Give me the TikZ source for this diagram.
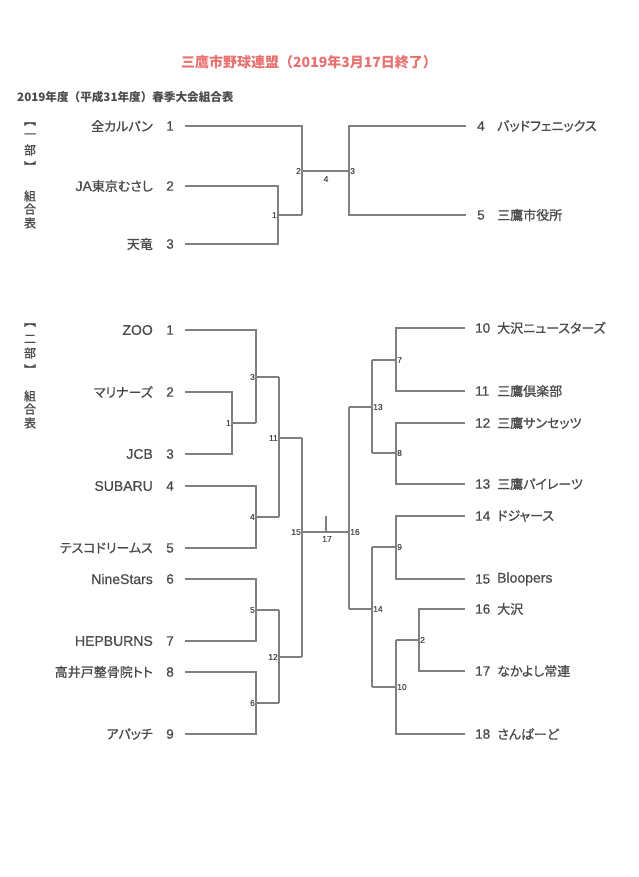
\documentclass[tikz,border=0pt]{standalone}
\usepackage{fontspec}
\setmainfont{Noto Sans CJK JP}
\newfontfamily\cjk{Noto Sans CJK JP}
\newfontfamily\cjkm{Noto Sans CJK JP}[FakeBold=0.8,RawFeature=+palt]
\newfontfamily\latf{Liberation Sans}[FakeBold=0.5]
\newcommand\lat[1]{{\latf\fontsize{14}{14}\selectfont #1}}
\definecolor{lineg}{HTML}{808080}
\definecolor{txt}{HTML}{4A4A4A}
\definecolor{ttl}{HTML}{E8706E}
\begin{document}
\begin{tikzpicture}[x=1pt,y=-1pt,
  ln/.style={draw=lineg,line width=1.3pt},
  team/.style={font=\cjkm\fontsize{13}{14}\selectfont,text=txt,inner sep=0pt},
  tnum/.style={font=\latf\fontsize{13.5}{14}\selectfont,text=txt,inner sep=0pt},
  mlab/.style={font=\latf\fontsize{8.5}{9}\selectfont,text=txt,inner sep=1pt},
  vlab/.style={font=\cjkm\fontsize{12}{12}\selectfont,text=txt,inner sep=0pt}]
\useasboundingbox[fill=white] (0,0) rectangle (638,877);

% titles
\node[font=\cjk\bfseries\fontsize{14}{15}\selectfont,text=ttl,anchor=west,inner sep=0pt] (title) at (181,62) {三鷹市野球連盟（2019年3月17日終了）};
\node[font=\cjk\bfseries\fontsize{11.6}{13}\selectfont,text=txt,anchor=west,inner sep=0pt] (sub) at (17,97) {2019年度（平成31年度）春季大会組合表};

% vertical labels part 1
\node[vlab,rotate=-90] (v1a) at (30,123) {【};
\node[vlab] (v1b) at (30,136) {一};
\node[vlab] (v1c) at (30,150) {部};
\node[vlab,rotate=-90] (v1d) at (30,164) {】};
\node[vlab] (v1e) at (30,196) {組};
\node[vlab] (v1f) at (30,209) {合};
\node[vlab] (v1g) at (30,223) {表};
% vertical labels part 2
\node[vlab,rotate=-90] (v2a) at (30,324) {【};
\node[vlab] (v2b) at (30,339) {二};
\node[vlab] (v2c) at (30,353) {部};
\node[vlab,rotate=-90] (v2d) at (30,367) {】};
\node[vlab] (v2e) at (30,396) {組};
\node[vlab] (v2f) at (30,409) {合};
\node[vlab] (v2g) at (30,423) {表};

% ---------- part 1 ----------
\node[team,anchor=east] (a1n) at (153,126) {全カルパン};
\node[team,anchor=east] (a2n) at (153,186) {\lat{JA}東京むさし};
\node[team,anchor=east] (a3n) at (153,244) {天竜};
\node[tnum,anchor=east] (a1) at (174,126) {1};
\node[tnum,anchor=east] (a2) at (174,186) {2};
\node[tnum,anchor=east] (a3) at (174,244) {3};
\node[tnum,anchor=west] (a4) at (477,126) {4};
\node[tnum,anchor=west] (a5) at (477,215) {5};
\node[team,anchor=west] (a4n) at (497,126) {バッドフェニックス};
\node[team,anchor=west] (a5n) at (497,215) {三鷹市役所};

\coordinate (a1s) at (185,126);
\coordinate (a2s) at (185,186);
\coordinate (a3s) at (185,244);
\coordinate (a4s) at (466,126);
\coordinate (a5s) at (466,215);
\coordinate (am1) at (278,215);
\coordinate (am2) at (302,171);
\coordinate (am3) at (349,171);

\draw[ln] (a2s) -| (am1) |- (a3s);
\draw[ln] (am1) -- (302,215) coordinate (am1e);
\draw[ln] (a1s) -| (am2) |- (am1e);
\draw[ln] (am2) -- (am3);
\draw[ln] (a4s) -| (am3) |- (a5s);
\node[mlab,anchor=east] (lab1) at (am1) {1};
\node[mlab,anchor=east] (lab2) at (am2) {2};
\node[mlab,anchor=west] (lab3) at (am3) {3};
\node[mlab] (lab4) at (326,179) {4};

% ---------- part 2 left ----------
\foreach \n/\y/\name in {1/330/\lat{ZOO},2/392/マリナーズ,3/454/\lat{JCB},4/486/\lat{SUBARU},5/548/テスコドリームス,6/579/\lat{NineStars},7/641/\lat{HEPBURNS},8/672/高井戸整骨院トト,9/734/アパッチ}{
  \node[team,anchor=east] (bn\n) at (153,\y) {\name};
  \node[tnum,anchor=east] (b\n) at (174,\y) {\n};
  \coordinate (bs\n) at (185,\y);
}
\coordinate (bm1) at (232,423);
\coordinate (bm3) at (256,377);
\coordinate (bm4) at (256,517);
\coordinate (bm11) at (279,438);
\coordinate (bm5) at (256,610);
\coordinate (bm6) at (256,703);
\coordinate (bm12) at (279,657);
\coordinate (bm15) at (302,532);

\draw[ln] (bs2) -| (bm1) |- (bs3);
\draw[ln] (bm1) -- (256,423) coordinate (bm1e);
\draw[ln] (bs1) -| (bm3) |- (bm1e);
\draw[ln] (bs4) -| (bm4) |- (bs5);
\draw[ln] (bm3) -- (279,377) coordinate (bm3e);
\draw[ln] (bm4) -- (279,517) coordinate (bm4e);
\draw[ln] (bm3e) -- (bm4e);
\draw[ln] (bm11) -- (302,438) coordinate (bm11e);
\draw[ln] (bs6) -| (bm5) |- (bs7);
\draw[ln] (bs8) -| (bm6) |- (bs9);
\draw[ln] (bm5) -- (279,610) coordinate (bm5e);
\draw[ln] (bm6) -- (279,703) coordinate (bm6e);
\draw[ln] (bm5e) -- (bm6e);
\draw[ln] (bm12) -- (302,657) coordinate (bm12e);
\draw[ln] (bm11e) -- (bm12e);

\node[mlab,anchor=east] (l1) at (bm1) {1};
\node[mlab,anchor=east] (l3) at (bm3) {3};
\node[mlab,anchor=east] (l4) at (bm4) {4};
\node[mlab,anchor=east] (l11) at (bm11) {11};
\node[mlab,anchor=east] (l5) at (bm5) {5};
\node[mlab,anchor=east] (l6) at (bm6) {6};
\node[mlab,anchor=east] (l12) at (bm12) {12};
\node[mlab,anchor=east] (l15) at (bm15) {15};

% ---------- part 2 right ----------
\foreach \n/\y/\name in {10/328/大沢ニュースターズ,11/391/三鷹倶楽部,12/423/三鷹サンセッツ,13/484/三鷹パイレーツ,14/516/ドジャース,15/579/\lat{Bloopers},16/609/大沢,17/671/なかよし常連,18/734/さんぱーど}{
  \node[tnum,anchor=west] (c\n) at (475,\y) {\n};
  \node[team,anchor=west] (cn\n) at (497,\y) {\name};
  \coordinate (cs\n) at (465,\y);
}
\coordinate (cm7) at (396,360);
\coordinate (cm8) at (396,453);
\coordinate (cm13) at (372,407);
\coordinate (cm9) at (396,547);
\coordinate (cm2) at (419,640);
\coordinate (cm10) at (396,687);
\coordinate (cm14) at (372,609);
\coordinate (cm16) at (349,532);

\draw[ln] (cs10) -| (cm7) |- (cs11);
\draw[ln] (cs12) -| (cm8) |- (cs13);
\draw[ln] (cm7) -- (372,360) coordinate (cm7e);
\draw[ln] (cm8) -- (372,453) coordinate (cm8e);
\draw[ln] (cm7e) -- (cm8e);
\draw[ln] (cm13) -- (349,407) coordinate (cm13e);
\draw[ln] (cs14) -| (cm9) |- (cs15);
\draw[ln] (cs16) -| (cm2) |- (cs17);
\draw[ln] (cm2) -- (396,640) coordinate (cm2e);
\draw[ln] (cm2e) |- (cs18);
\draw[ln] (cm9) -- (372,547) coordinate (cm9e);
\draw[ln] (cm10) -- (372,687) coordinate (cm10e);
\draw[ln] (cm9e) -- (cm10e);
\draw[ln] (cm14) -- (349,609) coordinate (cm14e);
\draw[ln] (cm13e) -- (cm14e);
\draw[ln] (bm15) -- (cm16);
\coordinate (tick) at (326,516);
\draw[ln] (tick) -- (326,532);

\node[mlab,anchor=west] (r7) at (cm7) {7};
\node[mlab,anchor=west] (r8) at (cm8) {8};
\node[mlab,anchor=west] (r13) at (cm13) {13};
\node[mlab,anchor=west] (r9) at (cm9) {9};
\node[mlab,anchor=west] (r2) at (cm2) {2};
\node[mlab,anchor=west] (r10) at (cm10) {10};
\node[mlab,anchor=west] (r14) at (cm14) {14};
\node[mlab,anchor=west] (r16) at (cm16) {16};
\node[mlab] (r17) at (327,539) {17};
\end{tikzpicture}
\end{document}
